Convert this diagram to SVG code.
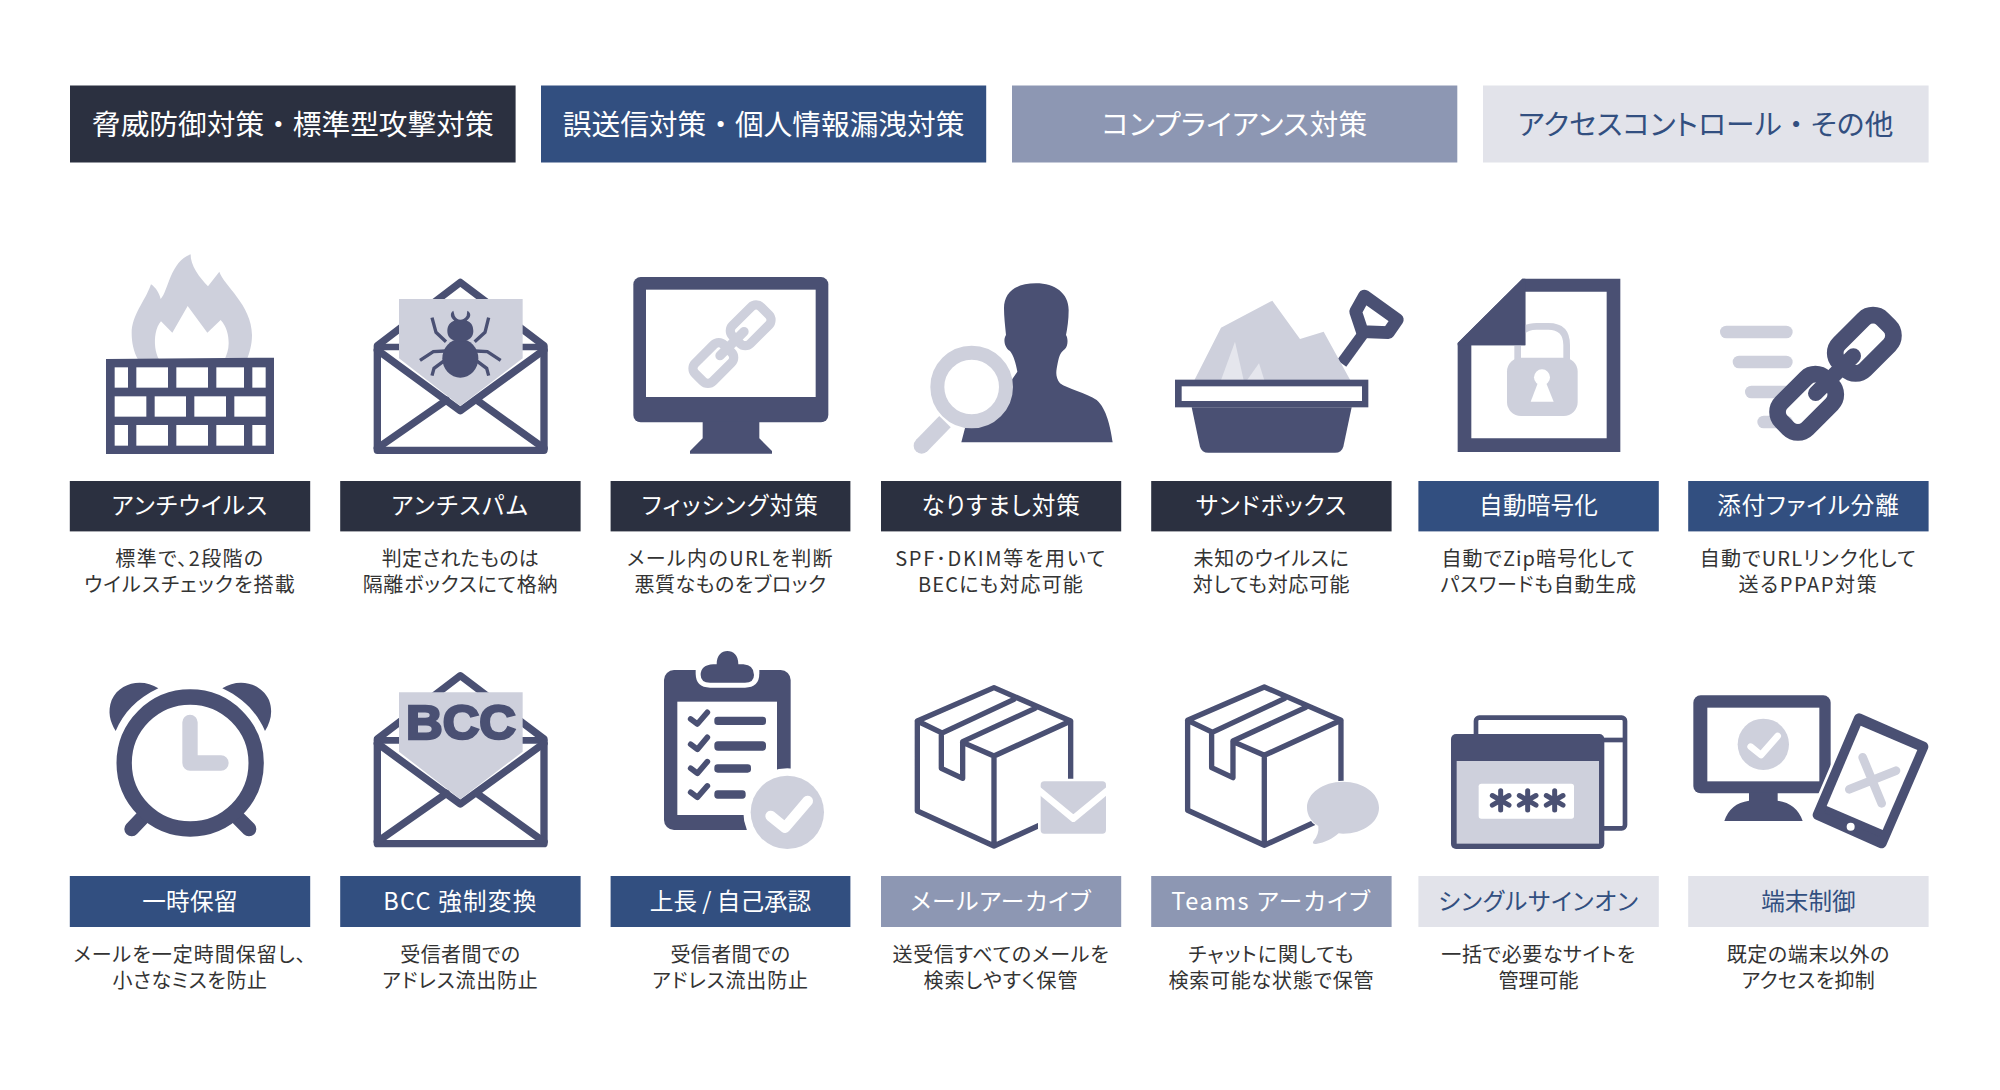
<svg xmlns="http://www.w3.org/2000/svg" xmlns:xlink="http://www.w3.org/1999/xlink" width="2000" height="1090" viewBox="0 0 2000 1090">
<style>
text{font-family:"Noto Sans CJK JP","Noto Sans",sans-serif;text-anchor:middle;font-feature-settings:"palt";}
.hd{font-size:28.7px}.lb{font-size:23.6px}.ds{font-size:20px;fill:#333}
.fw{font-feature-settings:normal}
.w{fill:#fff}.blu{fill:#324f80}
.bk{fill:#2b3040}.bb{fill:#324f80}.bm{fill:#8d97b3}.bl{fill:#e2e3ea}
.d{fill:#4a5073}.l{fill:#ced0dc}.wf{fill:#fff}
.sd{fill:none;stroke:#4a5073;stroke-linecap:round;stroke-linejoin:round}
.sl{fill:none;stroke:#ced0dc;stroke-linecap:round;stroke-linejoin:round}
.sw{fill:none;stroke:#fff;stroke-linecap:round;stroke-linejoin:round}
</style>
<defs>
<g id="env">
<path class="sd" stroke-width="22" d="M862,302V616H1362V302L1111,112Z"/>
<path class="sd" stroke-width="20" d="M862,306H1362"/>
<path class="sd" stroke-width="22" d="M862,315L1111,497L1362,315M862,610L1070,465M1362,610L1160,465"/>
<polygon class="l" points="927,162 1298,162 1298,340 1111,483 927,340"/>
</g>
<g id="box">
<path class="sd" stroke-width="16" d="M802,213L1032,113L1262,213V483L1032,588L802,483ZM802,213L874,248M938,277L1032,318L1262,213M1032,318V588M1092,148L874,250V355L938,385V275L1155,175"/>
</g>
<path id="ast" d="M0,-29V29M-25,-14.500L25,14.500M-25,14.500L25,-14.500"/>
</defs>
<rect width="2000" height="1090" fill="#fff"/>

<g id="header-1"><rect class="bk" x="70" y="85.500" width="445.600" height="77"/><text class="hd w" x="292.800" y="135">脅威防御対策<tspan class="fw">・</tspan>標準型攻撃対策</text></g>
<g id="header-2"><rect class="bb" x="541" y="85.500" width="445.200" height="77"/><text class="hd w" x="763.600" y="135">誤送信対策<tspan class="fw">・</tspan>個人情報漏洩対策</text></g>
<g id="header-3"><rect class="bm" x="1012" y="85.500" width="445.300" height="77"/><text class="hd w" x="1234.600" y="135" letter-spacing=".4">コンプライアンス対策</text></g>
<g id="header-4"><rect class="bl" x="1483" y="85.500" width="445.600" height="77"/><text class="hd blu" x="1705.700" y="135" letter-spacing=".2">アクセスコントロール<tspan class="fw">・</tspan>その他</text></g>

<g id="antivirus">
<g transform="translate(90,245) scale(.33333)">
<path class="l" d="M145,345C130,320 125,290 125,265C125,210 165,170 183,118C198,128 208,145 212,162C235,140 240,50 302,28C300,60 330,100 354,124L388,80C400,120 486,180 486,270C486,300 478,325 470,345Z"/>
<path class="wf" d="M208,345C195,325 192,290 197,265C200,250 205,238 213,229L247,263L293,183L352,263L392,225C410,245 416,270 416,295C416,315 410,330 403,345Z"/>
<polygon class="d" points="48,342 552,338 552,627 48,627"/>
<g class="wf">
<rect x="74" y="367" width="40" height="61"/><rect x="139" y="367" width="95" height="61"/><rect x="259" y="367" width="95" height="61"/><rect x="379" y="367" width="83" height="61"/><rect x="487" y="367" width="40" height="61"/>
<rect x="74" y="454" width="95" height="61"/><rect x="194" y="454" width="94" height="61"/><rect x="313" y="454" width="95" height="61"/><rect x="433" y="454" width="94" height="61"/>
<rect x="74" y="540" width="40" height="62"/><rect x="139" y="540" width="95" height="62"/><rect x="259" y="540" width="95" height="62"/><rect x="379" y="540" width="83" height="62"/><rect x="487" y="540" width="40" height="62"/>
</g>
</g>
<rect class="bk" x="69.800" y="481" width="240.400" height="50.400"/><text class="lb w" x="190" y="514" letter-spacing="1.100">アンチウイルス</text>
<text class="ds" x="190" y="566" letter-spacing="1.400">標準で、2段階の</text><text class="ds" x="190" y="591.500" letter-spacing="1.150">ウイルスチェックを搭載</text>
</g>

<g id="antispam">
<g transform="translate(90,245) scale(.33333)">
<use href="#env" xlink:href="#env"/>
<ellipse class="d" cx="1111" cy="340" rx="54" ry="58"/>
<path class="d" d="M1072,258C1072,240 1082,230 1093,227C1082,218 1078,205 1090,197L1094,212C1098,220 1104,224 1111,224C1118,224 1126,220 1130,212L1132,197C1146,205 1142,218 1130,227C1142,230 1150,240 1150,258C1150,275 1140,288 1111,290C1082,288 1072,275 1072,258Z"/>
<path class="sd" style="stroke-linecap:butt;stroke-linejoin:miter" stroke-width="10" d="M1026,218L1038,262L1068,290M1196,218L1185,262L1154,290M990,346L1030,320L1066,318M1232,346L1192,320L1156,318M1026,392L1032,370L1064,346M1196,392L1190,370L1158,346"/>
</g>
<rect class="bk" x="340.200" y="481" width="240.400" height="50.400"/><text class="lb w" x="460.400" y="514" letter-spacing="1.500">アンチスパム</text>
<text class="ds" x="460.400" y="566" letter-spacing=".3">判定されたものは</text><text class="ds" x="460.400" y="591.500" letter-spacing=".75">隔離ボックスにて格納</text>
</g>

<g id="phishing">
<g transform="translate(620,265) scale(.33333)">
<rect class="d" x="40" y="36" width="585" height="436" rx="22"/>
<rect class="wf" x="78" y="74" width="509" height="322"/>
<polygon class="d" points="248,470 418,470 418,520 456,558 456,566 210,566 210,558 248,520"/>
<g class="sl" stroke-width="28">
<rect x="-61" y="-38" width="122" height="76" rx="22" transform="translate(392,181) rotate(-45)"/>
<rect x="-61" y="-38" width="122" height="76" rx="22" transform="translate(280,294) rotate(-45)"/>
<path d="M300,272L372,200"/>
</g>
</g>
<rect class="bk" x="610.600" y="481" width="239.800" height="50.400"/><text class="lb w" x="730.500" y="514" letter-spacing="1.250">フィッシング対策</text>
<text class="ds" x="730.500" y="566" letter-spacing="1.400">メール内のURLを判断</text><text class="ds" x="730.500" y="591.500" letter-spacing=".5">悪質なものをブロック</text>
</g>

<g id="spoofing">
<g transform="translate(620,265) scale(.33333)">
<path class="d" d="M1152,130C1152,80 1190,55 1248,55C1305,55 1346,85 1346,135C1346,165 1342,190 1338,210C1345,220 1344,245 1335,252C1322,262 1318,270 1313,295C1308,320 1305,335 1320,355C1340,370 1400,385 1430,405C1460,430 1472,490 1478,532H1024L1040,470L1175,345L1192,320C1188,295 1180,270 1170,258C1155,250 1148,225 1158,210C1155,180 1152,155 1152,130Z"/>
<path class="sl" style="stroke-linecap:butt" stroke-width="48" d="M975,470L905,542"/>
<circle cx="905" cy="542" r="24" class="l"/>
<circle cx="1055" cy="366" r="103" fill="#fff" stroke="#ced0dc" stroke-width="42"/>
</g>
<rect class="bk" x="881" y="481" width="240.200" height="50.400"/><text class="lb w" x="1001" y="514" letter-spacing=".9">なりすまし対策</text>
<text class="ds" x="1001" y="566" letter-spacing="1.700">SPF･DKIM等を用いて</text><text class="ds" x="1001" y="591.500" letter-spacing="1.100">BECにも対応可能</text>
</g>

<g id="sandbox">
<g transform="translate(1165,265) scale(.33333)">
<path class="sd" style="stroke-linecap:butt" stroke-width="34" d="M592,210L530,295"/>
<polygon class="sd" stroke-width="38" points="598,93 697,164 670,203 592,200 572,140"/>
<polygon class="l" points="88,346 168,188 322,107 405,222 476,200 556,346"/>
<polygon fill="#e5e6ed" points="168,346 210,230 236,346"/>
<polygon fill="#e5e6ed" points="246,346 282,295 298,346"/>
<rect class="d" x="30" y="344" width="580" height="83"/>
<rect class="wf" x="50" y="364" width="541" height="44"/>
<path class="d" d="M80,427H560L535,545Q530,563 510,563H130Q110,563 105,545Z"/>
</g>
<rect class="bk" x="1151.200" y="481" width="240.400" height="50.400"/><text class="lb w" x="1271.400" y="514" letter-spacing=".9">サンドボックス</text>
<text class="ds" x="1271.400" y="566" letter-spacing=".6">未知のウイルスに</text><text class="ds" x="1271.400" y="591.500" letter-spacing=".6">対しても対応可能</text>
</g>

<g id="encryption">
<g transform="translate(1165,265) scale(.33333)">
<polygon class="d" points="878,234 1072,41 1366,41 1366,561 878,561"/>
<path class="wf" d="M1081,80H1325V520H919V241H1081Z"/>
<path class="sl" style="stroke-linecap:butt" stroke-width="20" d="M1058,290V240Q1058,184 1115,184H1150Q1205,184 1205,240V290"/>
<rect class="l" x="1026" y="278" width="212" height="175" rx="42"/>
<circle class="wf" cx="1131" cy="337" r="24"/>
<polygon class="wf" points="1120,350 1097,410 1166,410 1142,350"/>
<polygon class="d" points="878,234 1072,41 1081,41 1081,241 878,241"/>
</g>
<rect class="bb" x="1418.400" y="481" width="240.400" height="50.400"/><text class="lb w" x="1538.600" y="514" letter-spacing=".2">自動暗号化</text>
<text class="ds" x="1538.600" y="566" letter-spacing="1">自動でZip暗号化して</text><text class="ds" x="1538.600" y="591.500" letter-spacing=".75">パスワードも自動生成</text>
</g>

<g id="attachment">
<g transform="translate(1700,285) scale(.33333)">
<g class="l"><rect x="60" y="122" width="218" height="38" rx="19"/><rect x="98" y="212" width="180" height="38" rx="19"/><rect x="135" y="302" width="143" height="38" rx="19"/><rect x="172" y="392" width="106" height="38" rx="19"/></g>
<g class="sd" stroke-width="50">
<rect x="-92" y="-55" width="184" height="110" rx="40" transform="translate(493,178) rotate(-45)"/>
<rect x="-92" y="-55" width="184" height="110" rx="40" transform="translate(320,355) rotate(-45)"/>
<path stroke-width="46" d="M347,325L460,213"/>
</g>
</g>
<rect class="bb" x="1688.200" y="481" width="240.400" height="50.400"/><text class="lb w" x="1808.400" y="514" letter-spacing=".8">添付ファイル分離</text>
<text class="ds" x="1808.400" y="566" letter-spacing="1.150">自動でURLリンク化して</text><text class="ds" x="1808.400" y="591.500" letter-spacing="1.600">送るPPAP対策</text>
</g>

<g id="hold">
<g transform="translate(100,650) scale(.33333)">
<path class="sd" stroke-width="44" d="M130,500L95,537M410,500L447,537"/>
<path class="d" d="M175,115C130,85 60,95 35,150C22,185 30,215 47,243C70,190 110,145 175,115Z"/>
<path class="d" d="M367,115C412,85 482,95 507,150C520,185 512,215 495,243C472,190 432,145 367,115Z"/>
<circle cx="270.500" cy="339" r="198" fill="#fff" stroke="#4a5073" stroke-width="46"/>
<path class="sl" stroke-width="46" d="M270,217V339H363"/>
</g>
<rect class="bb" x="69.800" y="876" width="240.400" height="51"/><text class="lb w" x="190" y="909.500" letter-spacing=".3">一時保留</text>
<text class="ds" x="190" y="962" letter-spacing="1">メールを一定時間保留し、</text><text class="ds" x="190" y="987.500" letter-spacing=".6">小さなミスを防止</text>
</g>

<g id="bcc">
<g transform="translate(90,650) scale(.33333) translate(0,-35)"><use href="#env" xlink:href="#env"/></g>
<text x="461" y="739" font-weight="700" font-size="48" fill="#4a5073" stroke="#4a5073" stroke-width="2.500" textLength="110" lengthAdjust="spacingAndGlyphs" style="font-family:'Liberation Sans',sans-serif;font-feature-settings:normal">BCC</text>
<rect class="bb" x="340.200" y="876" width="240.400" height="51"/><text class="lb w" x="460.400" y="909.500" letter-spacing="1.200">BCC 強制変換</text>
<text class="ds" x="460.400" y="962" letter-spacing=".4">受信者間での</text><text class="ds" x="460.400" y="987.500" letter-spacing=".8">アドレス流出防止</text>
</g>

<g id="approval">
<g transform="translate(650,650) scale(.33333)">
<rect class="d" x="42" y="60" width="380" height="480" rx="30"/>
<path class="wf" d="M137,50V70Q137,113 180,113H285Q328,113 328,70V50Z"/>
<path class="d" d="M152,75Q152,45 190,43H200C200,15 215,3 232,3C250,3 265,15 265,43H280Q312,45 312,75Q312,98 285,98H180Q152,98 152,75Z"/>
<rect class="wf" x="82" y="155" width="299" height="340"/>
<g class="sd" stroke-width="17">
<path d="M122,207L142,222L172,187M122,283L142,298L172,262M122,355L142,370L172,335M122,427L142,442L172,408"/>
</g>
<g class="d"><rect x="193" y="200" width="155" height="25" rx="10"/><rect x="193" y="274" width="155" height="28" rx="11"/><rect x="193" y="343" width="110" height="25" rx="10"/><rect x="193" y="421" width="94" height="25" rx="10"/></g>
<circle class="wf" cx="412" cy="487" r="132"/>
<circle class="l" cx="412" cy="487" r="110"/>
<path class="sw" stroke-width="32" d="M362,498L405,533L473,453"/>
</g>
<rect class="bb" x="610.600" y="876" width="239.800" height="51"/><text class="lb w" x="730.500" y="909.500">上長 / 自己承認</text>
<text class="ds" x="730.500" y="962" letter-spacing=".4">受信者間での</text><text class="ds" x="730.500" y="987.500" letter-spacing=".8">アドレス流出防止</text>
</g>

<g id="mail-archive">
<g transform="translate(650,650) scale(.33333)">
<use href="#box" xlink:href="#box"/>
<rect class="l" x="1168" y="390" width="204" height="165" rx="15" stroke="#fff" stroke-width="8"/>
<path class="sw" stroke-width="20" d="M1166,420L1270,506L1374,420"/>
</g>
<rect class="bm" x="881" y="876" width="240.200" height="51"/><text class="lb w" x="1001" y="909.500" letter-spacing="1">メールアーカイブ</text>
<text class="ds" x="1001" y="962" letter-spacing=".8">送受信すべてのメールを</text><text class="ds" x="1001" y="987.500" letter-spacing=".95">検索しやすく保管</text>
</g>

<g id="teams-archive">
<g transform="translate(920.300,649.300) scale(.33333)">
<use href="#box" xlink:href="#box"/>
</g>
<g transform="translate(1170,670) scale(.33333)">
<path class="l" stroke="#fff" stroke-width="6" paint-order="stroke" d="M519,335C580,335 627,370 627,413C627,456 580,491 519,491C515,491 510,491 506,490C490,505 465,518 438,522Q425,523 430,514C442,500 447,485 445,468C424,455 411,435 411,413C411,370 458,335 519,335Z"/>
</g>
<rect class="bm" x="1151.200" y="876" width="240.400" height="51"/><text class="lb w" x="1271.400" y="909.500" letter-spacing="1.500">Teams アーカイブ</text>
<text class="ds" x="1271.400" y="962" letter-spacing="1">チャットに関しても</text><text class="ds" x="1271.400" y="987.500" letter-spacing=".75">検索可能な状態で保管</text>
</g>

<g id="sso">
<g transform="translate(1170,670) scale(.33333)">
<rect x="918" y="143" width="447" height="332" rx="10" fill="#fff" stroke="#4a5073" stroke-width="14"/>
<path class="sd" stroke-width="14" style="stroke-linecap:butt" d="M1290,210H1365"/>
<rect class="d" x="843" y="192" width="460" height="345" rx="15"/>
<rect class="l" x="860" y="273" width="427" height="248"/>
<rect class="wf" x="926" y="341" width="286" height="105" rx="8"/>
<g class="sd" stroke-width="15"><use href="#ast" xlink:href="#ast" x="992" y="391"/><use href="#ast" xlink:href="#ast" x="1073" y="391"/><use href="#ast" xlink:href="#ast" x="1154" y="391"/></g>
</g>
<rect class="bl" x="1418.400" y="876" width="240.400" height="51"/><text class="lb blu" x="1538.600" y="909.500" letter-spacing=".85">シングルサインオン</text>
<text class="ds" x="1538.600" y="962" letter-spacing=".6">一括で必要なサイトを</text><text class="ds" x="1538.600" y="987.500">管理可能</text>
</g>

<g id="device-control">
<g transform="translate(1680,680) scale(.33333)">
<rect class="d" x="40" y="46" width="412" height="294" rx="22"/>
<rect class="wf" x="82" y="83" width="336" height="221"/>
<path class="d" d="M207,338H293V362Q350,370 368,423H133Q150,370 207,362Z"/>
<circle class="l" cx="250" cy="193" r="77"/>
<path class="sw" stroke-width="20" d="M212,200L243,225L293,168"/>
<polygon class="sw" stroke-width="46" points="537,115 730,200 605,490 413,405"/>
<polygon class="d" points="537,115 730,200 605,490 413,405"/>
<polygon class="sd" stroke-width="30" points="537,115 730,200 605,490 413,405"/>
<polygon class="wf" points="542,137 712,210 608,450 440,378"/>
<circle class="wf" cx="512" cy="440" r="12"/>
<path class="sl" stroke-width="26" d="M548,232L605,370M508,328L648,272"/>
</g>
<rect class="bl" x="1688.200" y="876" width="240.400" height="51"/><text class="lb blu" x="1808.400" y="909.500">端末制御</text>
<text class="ds" x="1808.400" y="962" letter-spacing=".6">既定の端末以外の</text><text class="ds" x="1808.400" y="987.500" letter-spacing=".35">アクセスを抑制</text>
</g>
</svg>
